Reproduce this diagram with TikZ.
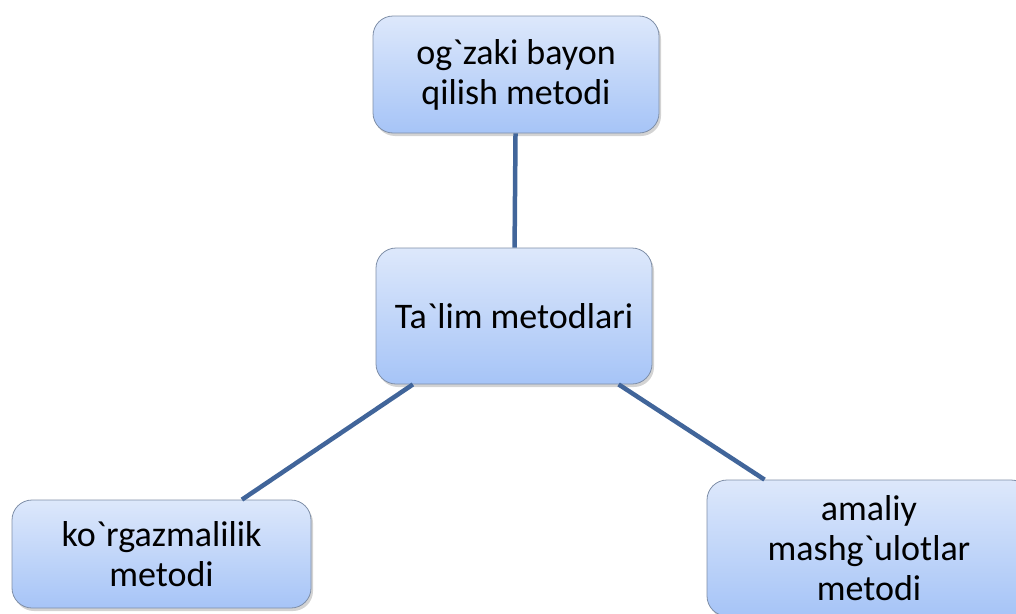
\documentclass[tikz,border=0pt]{standalone}
\usepackage{fontspec}
\setmainfont{Carlito}[Ligatures=TeXOff]
\usetikzlibrary{shadows}
\definecolor{linkc}{HTML}{41659A}
\definecolor{boxtop}{HTML}{DDE8FB}
\definecolor{boxbot}{HTML}{A6C4F7}
\definecolor{boxedge}{HTML}{7F8FA8}
\tikzset{
  box/.style={draw=boxedge, line width=0.8pt, rounded corners=20pt,
    top color=boxtop, bottom color=boxbot, align=center,
    font=\fontsize{36}{40}\selectfont, inner sep=0pt,
    drop shadow={opacity=0.35, shadow xshift=2pt, shadow yshift=-3pt}},
  link/.style={draw=linkc, line width=4.5pt}
}
\begin{document}
\begin{tikzpicture}[x=1pt,y=-1pt]
\useasboundingbox (0,0) rectangle (1016,613);
\clip (0,0) rectangle (1016,613);
\node[box, minimum width=286pt, minimum height=117pt] (top) at (516,74.5) {og`zaki bayon\\qilish metodi};
\node[box, minimum width=276pt, minimum height=136pt] (mid) at (514,316) {Ta`lim metodlari};
\node[box, minimum width=299pt, minimum height=108pt] (bl) at (161.5,554) {ko`rgazmalilik\\metodi};
\node[box, minimum width=324pt, minimum height=136pt] (br) at (869,548) {amaliy\\mashg`ulotlar\\metodi};
\draw[link] (top) -- (mid);
\draw[link] (mid) -- (bl);
\draw[link] (mid) -- (br);
\end{tikzpicture}
\end{document}
